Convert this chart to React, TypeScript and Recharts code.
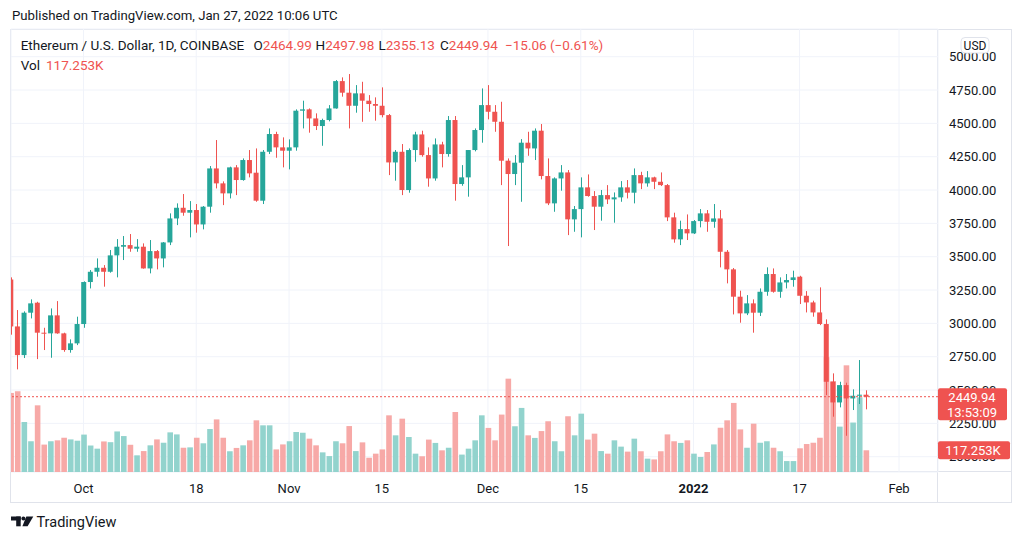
import React from "react"
import { ComposedChart, Bar, XAxis, YAxis, CartesianGrid, ReferenceLine } from "recharts"

// ETH/USD daily candles, Sep 20 2021 .. Jan 27 2022 (index 0 = Sep 20)
const open = [
  3329, 2977, 2762, 3080, 3155, 2930, 2925, 3060, 2925, 2800, 2850,
  2995, 3310, 3387, 3417, 3387, 3510, 3575, 3587, 3560, 3575, 3412, 3542, 3487, 3607, 3787, 3867, 3830, 3850, 3742, 3875,
  4162, 4050, 3975, 4170, 4075, 4225, 4130, 3920, 4287, 4420, 4320,
  4295, 4320, 4595, 4605, 4537, 4480, 4525, 4612, 4817, 4730, 4632, 4725, 4670, 4645, 4632, 4562, 4207, 4287, 4000, 4300,
  4417, 4262, 4087, 4342, 4270, 4525, 4045, 4095, 4300, 4450,
  4637, 4587, 4512, 4220, 4120, 4205, 4355, 4312, 4445, 4105, 3900, 4087, 4132, 3780, 3857, 4020, 3955, 3875, 3962, 3930,
  3945, 4020, 3980, 4112, 4050, 4095, 4062, 4037, 3795, 3630, 3707,
  3675, 3767, 3825, 3762, 3787, 3537, 3405, 3200, 3075, 3150, 3080, 3237, 3370, 3237, 3307, 3325, 3350, 3207, 3157, 3082,
  2995, 2562, 2407, 2537, 2437, 2457, 2464.99,
]
const high = [
  3345, 3100, 3090, 3180, 3162, 2967, 3112, 3167, 2930, 2880, 3050,
  3315, 3400, 3487, 3437, 3550, 3632, 3655, 3670, 3632, 3600, 3625, 3550, 3610, 3825, 3900, 3970, 3917, 3895, 3880, 4180,
  4375, 4065, 4175, 4187, 4237, 4300, 4312, 4300, 4462, 4437, 4395,
  4380, 4605, 4670, 4612, 4575, 4535, 4637, 4825, 4845, 4870, 4787, 4812, 4712, 4695, 4770, 4570, 4300, 4345, 4312, 4437,
  4445, 4320, 4387, 4362, 4555, 4555, 4187, 4300, 4462, 4762,
  4787, 4637, 4662, 4237, 4262, 4382, 4437, 4462, 4495, 4237, 4095, 4187, 4150, 3880, 4095, 4117, 3992, 4000, 4037, 3982,
  4067, 4075, 4162, 4137, 4142, 4100, 4132, 4045, 3830, 3770, 3817,
  3775, 3857, 3850, 3895, 3850, 3550, 3415, 3245, 3212, 3180, 3262, 3420, 3412, 3345, 3370, 3395, 3357, 3242, 3170, 3270,
  3030, 2625, 2562, 2555, 2505, 2725, 2497.98,
]
const low = [
  2915, 2655, 2740, 3037, 2732, 2800, 2742, 2922, 2787, 2780, 2837,
  2967, 3262, 3350, 3275, 3380, 3345, 3475, 3537, 3537, 3410, 3375, 3405, 3420, 3587, 3737, 3807, 3645, 3680, 3705, 3830,
  4012, 3887, 3937, 3962, 4070, 4095, 3912, 3895, 4270, 4242, 4170,
  4155, 4295, 4462, 4430, 4450, 4332, 4515, 4610, 4700, 4462, 4580, 4512, 4587, 4520, 4545, 4112, 4070, 3962, 3980, 4212,
  4250, 4025, 4070, 4170, 4250, 3920, 4032, 3950, 4290, 4355,
  4530, 4437, 4037, 3580, 4037, 3912, 4257, 4225, 4080, 3887, 3837, 3995, 3662, 3687, 3645, 3950, 3700, 3770, 3895, 3755,
  3912, 3937, 3900, 4007, 4025, 4007, 4030, 3767, 3605, 3587, 3625,
  3670, 3720, 3687, 3717, 3420, 3300, 3067, 3005, 3062, 2930, 3055, 3207, 3230, 3192, 3262, 3275, 3145, 3082, 3050, 2987,
  2462, 2300, 2370, 2157, 2350, 2395, 2355.13,
]
const close = [
  2977, 2762, 3080, 3150, 2930, 2925, 3060, 2925, 2800, 2850, 2995,
  3310, 3387, 3417, 3387, 3510, 3575, 3587, 3560, 3575, 3412, 3542, 3487, 3607, 3787, 3867, 3830, 3850, 3742, 3875, 4162,
  4050, 3975, 4170, 4075, 4225, 4125, 3920, 4287, 4420, 4320, 4295,
  4320, 4595, 4605, 4537, 4480, 4525, 4612, 4817, 4730, 4632, 4725, 4670, 4645, 4632, 4562, 4207, 4287, 4000, 4300, 4417,
  4262, 4087, 4342, 4270, 4525, 4045, 4095, 4300, 4450, 4637,
  4587, 4512, 4220, 4120, 4205, 4355, 4312, 4445, 4105, 3900, 4087, 4132, 3780, 3857, 4020, 3955, 3875, 3962, 3930, 3945,
  4020, 3980, 4112, 4050, 4095, 4062, 4037, 3795, 3630, 3707, 3675,
  3767, 3825, 3762, 3787, 3537, 3405, 3200, 3075, 3150, 3080, 3237, 3370, 3237, 3307, 3325, 3345, 3207, 3157, 3082, 2995,
  2562, 2407, 2537, 2437, 2457, 2465, 2449.94,
]
// volume in thousands of ETH
const volume = [
  427, 436, 270, 166, 360, 148, 166, 171, 185, 176, 169,
  202, 143, 126, 165, 161, 219, 194, 147, 90, 113, 144, 176, 158, 214, 203, 131, 133, 185, 155, 232,
  284, 185, 112, 130, 144, 171, 279, 252, 252, 122, 149,
  166, 216, 212, 180, 144, 106, 86, 166, 155, 248, 113, 160, 77, 99, 122, 306, 198, 288, 189, 99,
  85, 175, 157, 117, 131, 324, 94, 126, 171, 306,
  238, 171, 310, 504, 247, 346, 198, 184, 221, 274, 166, 112, 301, 198, 315, 175, 207, 113, 99, 171,
  137, 110, 180, 112, 72, 68, 112, 203, 166, 157, 171,
  99, 81, 108, 149, 239, 279, 373, 230, 131, 261, 158, 166, 131, 112, 59, 59, 128, 151, 158, 185,
  620, 491, 245, 576, 267, 403, 117.253,
]

const tickDays = [11, 28, 42, 56, 72, 86, 103, 119, 134]
const tickLabels = ["Oct", "18", "Nov", "15", "Dec", "15", "2022", "17", "Feb"]
const priceTicks = [2000, 2250, 2500, 2750, 3000, 3250, 3500, 3750, 4000, 4250, 4500, 4750, 5000]

const UP = "#26a69a"
const DOWN = "#ef5350"
const UP_VOL = "#92d3cd"
const DOWN_VOL = "#f7a9a7"
const TEXT = "#131722"
const LINE = "#e0e3eb"

const X_DOMAIN = [0.06, 139.88]
const PRICE_DOMAIN = [1885.25, 5207.75]
const VOL_DOMAIN = [0, 2392]
const MARGIN = { top: 29, right: 12, bottom: 39, left: 11 }

const data = open.map((o, i) => ({
  i,
  open: o,
  high: high[i],
  low: low[i],
  close: close[i],
  volume: volume[i],
  range: [low[i], high[i]],
}))

const last = data.length - 1

function Candle(props: any) {
  const { x, y, width, height, payload } = props
  const k = height / (payload.high - payload.low)
  const top = y + (payload.high - Math.max(payload.open, payload.close)) * k
  const bot = y + (payload.high - Math.min(payload.open, payload.close)) * k
  const color = payload.close >= payload.open ? UP : DOWN
  const cx = Math.round(x + width / 2) + 0.5
  return (
    <g>
      <line x1={cx} x2={cx} y1={y} y2={y + height} stroke={color} strokeWidth={1} />
      <rect x={x} y={top} width={width} height={Math.max(bot - top, 1)} fill={color} />
    </g>
  )
}

function VolBar(props: any) {
  const { x, y, width, height, payload } = props
  return <rect x={x} y={y} width={width} height={height} fill={payload.close >= payload.open ? UP_VOL : DOWN_VOL} />
}

function PriceTag(props: any) {
  const vb = props.viewBox
  const x = vb.x + vb.width
  return (
    <g>
      <rect x={x} y={vb.y - 8.5} width={69} height={32} rx={2} fill={DOWN} />
      <text x={x + 34} y={vb.y + 5.5} textAnchor="middle" fill="#fff" fontSize={13}>
        {close[last].toFixed(2)}
      </text>
      <text x={x + 34} y={vb.y + 20.5} textAnchor="middle" fill="#fff" fontSize={13}>
        13:53:09
      </text>
    </g>
  )
}

function VolTag(props: any) {
  const vb = props.viewBox
  const x = vb.x + vb.width
  return (
    <g>
      <rect x={x} y={vb.y - 9} width={72} height={18} rx={2} fill={DOWN} />
      <text x={x + 35} y={vb.y + 4.5} textAnchor="middle" fill="#fff" fontSize={13}>
        {volume[last].toFixed(3)}K
      </text>
    </g>
  )
}

function TimeTick(props: any) {
  const { x, y, payload } = props
  const label = tickLabels[tickDays.indexOf(payload.value)]
  return (
    <text x={x} y={y} dy="0.71em" textAnchor="middle" fill={TEXT} fontSize={13} fontWeight={label === "2022" ? 700 : 400}>
      {label}
    </text>
  )
}

function Logo() {
  return (
    <g fill={TEXT}>
      <rect x={11} y={516.5} width={9.7} height={4} />
      <rect x={16.2} y={516.5} width={4.5} height={9.8} />
      <circle cx={23.4} cy={518.6} r={2} />
      <polygon points="26.3,516.5 33.3,516.5 27.6,526.3 22.4,526.3" />
      <text x={36.5} y={526.5} fontSize={14.5} fill={TEXT}>TradingView</text>
    </g>
  )
}

const layer: React.CSSProperties = { position: "absolute", left: 0, top: 0 }

export default function App() {
  const o = open[last], h = high[last], l = low[last], c = close[last]
  return (
    <div style={{ position: "absolute", left: 0, top: 0, width: 1024, height: 542, background: "#fff", fontFamily: "Roboto, sans-serif" }}>
      <svg width={1024} height={542} style={layer}>
        <rect x={10.5} y={29.5} width={1001} height={473} fill="none" stroke={LINE} />
        <line x1={937.5} x2={937.5} y1={29.5} y2={502.5} stroke={LINE} />
        <line x1={10.5} x2={1011.5} y1={471.5} y2={471.5} stroke={LINE} />
      </svg>
      <div style={layer}>
        <ComposedChart width={1024} height={542} data={data} margin={MARGIN}>
          <CartesianGrid stroke="#f0f3fa" strokeWidth={1} />
          <XAxis
            type="number"
            dataKey="i"
            domain={X_DOMAIN}
            allowDataOverflow
            ticks={tickDays}
            interval={0}
            height={31}
            axisLine={false}
            tickLine={false}
            tickSize={0}
            tickMargin={12}
            tick={<TimeTick />}
          />
          <XAxis xAxisId="v" type="number" dataKey="i" domain={X_DOMAIN} allowDataOverflow hide />
          <YAxis
            orientation="right"
            domain={PRICE_DOMAIN}
            allowDataOverflow
            ticks={priceTicks}
            interval={0}
            width={74}
            axisLine={false}
            tickLine={false}
            tickSize={0}
            tickMargin={11}
            tick={{ fill: TEXT, fontSize: 13 }}
            tickFormatter={(v: number) => v.toFixed(2)}
          />
          <YAxis yAxisId="v" domain={VOL_DOMAIN} allowDataOverflow hide />
          <Bar xAxisId="v" yAxisId="v" dataKey="volume" barSize={5.6} shape={<VolBar />} isAnimationActive={false} />
          <Bar dataKey="range" barSize={5} shape={<Candle />} isAnimationActive={false} />
          <ReferenceLine y={close[last]} stroke={DOWN} strokeDasharray="2 2" />
        </ComposedChart>
      </div>
      {/* second layer with the same axes, so the last-value tags sit above the tick labels */}
      <div style={layer}>
        <ComposedChart width={1024} height={542} data={data} margin={MARGIN}>
          <XAxis type="number" dataKey="i" domain={X_DOMAIN} allowDataOverflow height={31} axisLine={false} tickLine={false} tick={false} />
          <YAxis orientation="right" domain={PRICE_DOMAIN} allowDataOverflow width={74} axisLine={false} tickLine={false} tick={false} />
          <YAxis yAxisId="v" domain={VOL_DOMAIN} allowDataOverflow hide />
          <ReferenceLine y={close[last]} stroke="none" label={<PriceTag />} />
          <ReferenceLine yAxisId="v" y={volume[last]} stroke="none" label={<VolTag />} />
        </ComposedChart>
      </div>
      <svg width={1024} height={542} style={{ ...layer, pointerEvents: "none" }}>
        <text x={12} y={20} fontSize={13.2} fill={TEXT}>Published on TradingView.com, Jan 27, 2022 10:06 UTC</text>
        <text x={20.7} y={50} fontSize={13.5} fill={TEXT}>Ethereum / U.S. Dollar, 1D, COINBASE</text>
        <text x={253.5} y={50} fontSize={13.5} fill={TEXT}>O<tspan fill={DOWN}>{o.toFixed(2)}</tspan></text>
        <text x={315.5} y={50} fontSize={13.5} fill={TEXT}>H<tspan fill={DOWN}>{h.toFixed(2)}</tspan></text>
        <text x={378.5} y={50} fontSize={13.5} fill={TEXT}>L<tspan fill={DOWN}>{l.toFixed(2)}</tspan></text>
        <text x={440} y={50} fontSize={13.5} fill={TEXT}>C<tspan fill={DOWN}>{c.toFixed(2)}</tspan></text>
        <text x={505} y={50} fontSize={13.5} fill={DOWN}>−15.06 (−0.61%)</text>
        <text x={20.7} y={70} fontSize={13.5} fill={TEXT}>Vol<tspan dx={6} fill={DOWN}>{volume[last].toFixed(3)}K</tspan></text>
        <rect x={961} y={37.5} width={28} height={15.5} rx={4} fill="#fff" stroke={LINE} />
        <text x={975} y={49.5} textAnchor="middle" fontSize={12} fill={TEXT}>USD</text>
        <Logo />
      </svg>
    </div>
  )
}
